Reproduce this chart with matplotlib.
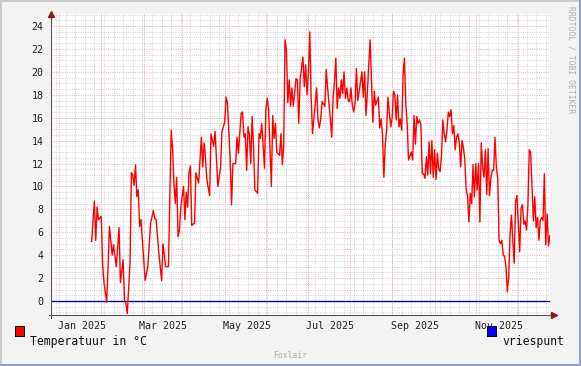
import numpy as np
import pandas as pd
import matplotlib
matplotlib.use('Agg')
import matplotlib.pyplot as plt
import matplotlib.dates as mdates
from matplotlib.patches import Rectangle

# dag (t.o.v. 1 jan 2025) en temperatuur in graden C
days = [7, 9, 10, 11, 12, 14, 15, 16, 18, 19, 20, 22, 23, 25, 27, 28, 30, 31, 32, 33,
        35, 36, 37, 38, 39, 40, 41, 42, 43, 45, 46, 48, 50, 52, 53, 54, 56, 58, 59, 61,
        63, 65, 66, 67, 68, 69, 70, 71, 72, 74, 75, 76, 77, 78, 79, 80, 82, 83, 85, 87,
        88, 89, 90, 91, 93, 94, 96, 97, 99, 101, 102, 104, 105, 106, 108, 109, 110, 112, 113, 114,
        116, 117, 118, 119, 120, 121, 122, 123, 124, 125, 126, 128, 129, 130, 131, 133, 134, 135, 136, 138,
        139, 140, 141, 142, 144, 145, 146, 147, 148, 149, 150, 151, 152, 153, 154, 156, 157, 158, 159, 161,
        162, 163, 164, 165, 166, 167, 168, 170, 171, 172, 173, 174, 175, 177, 178, 179, 181, 182, 183, 184,
        185, 186, 187, 188, 189, 190, 191, 192, 193, 194, 195, 196, 197, 198, 199, 200, 201, 202, 204, 205,
        206, 207, 208, 209, 210, 211, 212, 213, 214, 216, 217, 218, 219, 220, 221, 222, 223, 224, 225, 226,
        227, 228, 229, 230, 231, 232, 233, 234, 235, 236, 237, 238, 240, 241, 242, 243, 244, 245, 246, 247,
        248, 249, 250, 251, 252, 253, 254, 255, 256, 257, 258, 259, 260, 261, 262, 263, 264, 265, 266, 267,
        268, 269, 270, 271, 272, 273, 274, 275, 276, 277, 278, 279, 280, 281, 282, 283, 284, 285, 286, 287,
        288, 289, 290, 291, 292, 293, 294, 295, 296, 297, 298, 299, 300, 301, 302, 303, 304, 305, 306, 307,
        308, 309, 310, 311, 312, 313, 314, 315, 316, 317, 318, 319, 320, 321, 322, 323, 324, 325, 326, 327,
        328, 329, 330, 331, 332, 333, 334, 335, 336, 337, 338, 339, 340, 341]
temps = [5.2, 8.7, 5.3, 8.2, 7.1, 7.4, 3.3, 1.6, -0.1, 3.0, 6.5, 4.0, 4.9, 3.0, 6.4, 1.6, 3.6, 0.0, -0.2, -1.1,
         3.3, 11.2, 11.0, 10.1, 11.9, 9.1, 9.7, 6.5, 7.1, 3.6, 1.8, 3.0, 6.8, 7.9, 7.2, 7.1, 4.2, 1.8, 5.0, 3.0,
         3.0, 14.9, 13.3, 10.3, 8.5, 10.8, 5.6, 6.2, 8.2, 10.0, 7.1, 9.5, 8.2, 11.2, 11.8, 6.6, 6.8, 11.2, 10.3, 14.3,
         11.7, 13.8, 12.5, 10.6, 9.2, 14.6, 13.5, 14.8, 10.0, 11.7, 14.8, 15.6, 17.8, 17.3, 12.3, 8.4, 12.0, 12.0, 14.3, 12.9,
         16.4, 16.5, 14.3, 14.6, 11.4, 15.2, 14.5, 12.0, 16.1, 13.5, 9.7, 9.4, 14.6, 14.2, 15.5, 11.6, 16.7, 17.7, 16.7, 10.0,
         16.2, 14.2, 15.5, 13.0, 12.7, 14.6, 11.9, 13.5, 22.8, 21.9, 17.3, 19.3, 17.0, 18.6, 17.0, 19.4, 19.3, 15.5, 19.3, 21.3,
         18.7, 20.6, 18.0, 19.9, 23.5, 17.8, 14.6, 17.3, 18.6, 15.8, 15.1, 15.9, 17.4, 17.0, 20.2, 18.6, 15.9, 14.3, 17.7, 19.1,
         21.2, 16.8, 18.6, 17.7, 19.3, 18.1, 20.0, 17.7, 18.6, 17.5, 17.4, 18.6, 17.1, 16.5, 17.2, 20.3, 17.5, 18.3, 20.0, 17.8,
         20.0, 16.2, 18.2, 20.7, 22.8, 19.1, 15.6, 18.3, 17.1, 17.8, 15.1, 15.9, 14.5, 10.8, 13.6, 14.9, 17.8, 16.4, 15.2, 16.0,
         18.3, 18.0, 15.8, 18.0, 15.2, 15.9, 14.9, 19.7, 21.2, 17.2, 15.5, 12.3, 13.0, 12.3, 16.2, 13.7, 16.1, 15.5, 15.8, 15.4,
         11.1, 11.1, 10.7, 12.6, 11.0, 13.9, 11.1, 14.0, 10.8, 13.2, 10.6, 12.9, 11.5, 11.3, 12.7, 15.8, 14.6, 13.9, 14.9, 16.5,
         16.1, 16.7, 14.6, 15.3, 13.2, 14.3, 14.6, 13.8, 11.7, 14.0, 13.4, 12.3, 9.7, 9.2, 6.9, 9.4, 8.5, 11.9, 9.1, 12.0,
         9.7, 12.0, 6.9, 13.8, 11.7, 10.8, 13.2, 9.3, 13.3, 9.2, 10.7, 11.4, 11.4, 14.3, 11.7, 10.7, 5.3, 5.0, 5.3, 4.0,
         3.9, 3.0, 0.8, 2.1, 5.9, 7.5, 5.3, 3.3, 8.7, 9.2, 6.7, 4.3, 8.1, 8.4, 6.7, 7.0, 6.2, 8.4, 13.2, 13.0,
         10.0, 7.0, 9.1, 6.4, 7.3, 5.3, 7.0, 7.3, 7.0, 11.1, 4.9, 7.6, 4.8, 5.7]

vriespunt = 0.0
tick_months = [1, 3, 5, 7, 9, 11]

W, H = 581, 366
plt.rcParams['font.family'] = ['DejaVu Sans Mono']

start = pd.Timestamp('2025-01-01')
dates = (start + pd.to_timedelta(days, unit='D')).values
x_lo = start - pd.Timedelta(hours=22.6 * 24)
x_hi = start + pd.Timedelta(hours=341.1 * 24)


def px(x, y, w=0, h=0):
    # pixel (links-boven) naar figuur-fractie
    return x / W, 1 - (y + h) / H, w / W, h / H


fig = plt.figure(figsize=(W / 100, H / 100), dpi=100, facecolor='#f3f3f3')
l, b, w, h = px(51, 14, 499, 301)
ax = fig.add_axes([l, b, w, h])
ax.set_facecolor('white')
ax.set_xlim(x_lo, x_hi)
ax.set_ylim(-1.22, 25.05)

dot = (0, (1, 1.5))
# minor grid
for yv in np.arange(-1.0, 25.01, 0.5):
    if yv % 2 != 0:
        ax.axhline(yv, color='#cdcdcd', lw=0.65, ls=dot, zorder=1)
for d in pd.date_range('2024-12-13', '2025-12-10', freq='7D'):
    ax.axvline(d, color='#cdcdcd', lw=0.65, ls=dot, zorder=1)
# major grid
for yv in np.arange(0, 25, 2):
    ax.axhline(yv, color='#e4a4a4', lw=0.65, ls=dot, zorder=2)
for d in pd.date_range('2024-12-01', '2025-12-01', freq='MS'):
    ax.axvline(d + pd.Timedelta(days=14), color='#e4a4a4', lw=0.65, ls=dot, zorder=2)

ax.axhline(vriespunt, color='#0000b4', lw=1.0, zorder=3)
ax.plot(dates, temps, color='#ff0000', lw=1.0, zorder=4)

for s in ['top', 'right', 'left', 'bottom']:
    ax.spines[s].set_visible(False)
# assen met pijlen
ax.plot([0, 0], [-0.01, 1.0], transform=ax.transAxes, color='#555555', lw=0.8, clip_on=False, zorder=5)
ax.plot([-0.005, 1.0], [0, 0], transform=ax.transAxes, color='#555555', lw=0.8, clip_on=False, zorder=5)
ax.plot([0], [1.0], transform=ax.transAxes, marker='^', ms=4, color='#8b1a1a', clip_on=False, zorder=6)
ax.plot([1.008], [0], transform=ax.transAxes, marker='>', ms=4, color='#8b1a1a', clip_on=False, zorder=6)

ax.set_yticks(np.arange(0, 25, 2))
ax.xaxis.set_major_locator(mdates.MonthLocator(bymonth=tick_months))
ax.xaxis.set_major_formatter(mdates.DateFormatter('%b %Y'))
ax.tick_params(axis='both', length=0, labelsize=7.2, colors='#222222')
ax.tick_params(axis='y', pad=5.5)
ax.tick_params(axis='x', pad=4.3)

# legenda
fig.add_artist(Rectangle(px(15, 336)[:2], 9 / W, 10 / H, transform=fig.transFigure,
                         facecolor='#ff0000', edgecolor='black', lw=0.7))
fig.text(30 / W, 1 - 341 / H, 'Temperatuur in °C', fontsize=8.3, va='center', ha='left', color='#111111')
fig.add_artist(Rectangle(px(487, 336)[:2], 9 / W, 10 / H, transform=fig.transFigure,
                         facecolor='#0000ff', edgecolor='black', lw=0.7))
fig.text(502 / W, 1 - 341 / H, 'vriespunt', fontsize=8.3, va='center', ha='left', color='#111111')

fig.text(570.5 / W, 1 - 60 / H, 'RRDTOOL / TOBI OETIKER', rotation=270, fontsize=5.8,
         va='center', ha='center', color='#b0b0b0')
fig.text(290 / W, 1 - 355 / H, 'Foxlair', fontsize=5.8, va='center', ha='center', color='#b0b0b0')

# 3D-rand
fig.add_artist(Rectangle((0, 1 - 2 / H), 1, 2 / H, transform=fig.transFigure, color='#cccccc', lw=0))
fig.add_artist(Rectangle((0, 0), 2 / W, 1, transform=fig.transFigure, color='#cccccc', lw=0))
fig.add_artist(Rectangle((0, 0), 1, 2 / H, transform=fig.transFigure, color='#9c9ccc', lw=0))
fig.add_artist(Rectangle((1 - 2 / W, 0), 2 / W, 1, transform=fig.transFigure, color='#9c9ccc', lw=0))

fig.savefig('out.png', dpi=100, facecolor=fig.get_facecolor())
